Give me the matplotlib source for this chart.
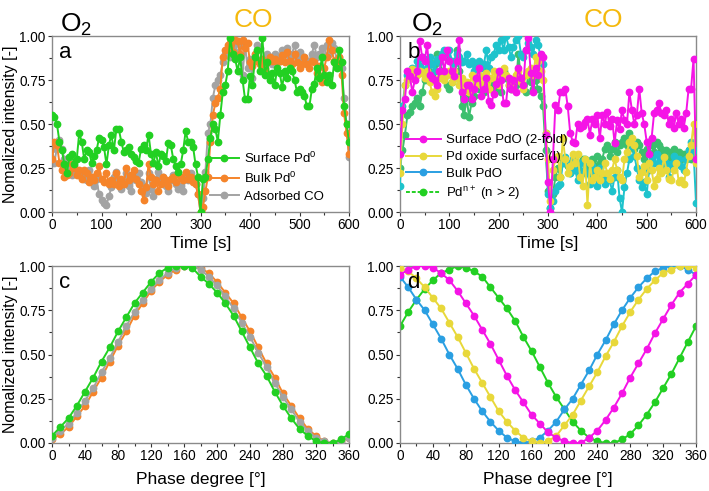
import matplotlib
matplotlib.use("Agg")
import matplotlib.pyplot as plt
from matplotlib.lines import Line2D
from matplotlib.ticker import MultipleLocator, FormatStrFormatter

plt.rcParams['font.family'] = ['Liberation Sans', 'DejaVu Sans']
plt.rcParams['mathtext.default'] = 'regular'

# ---------------- data ----------------
time_s = list(range(0, 601, 5))

a_surface_pd0 = [
    0.55, 0.54, 0.50, 0.40, 0.35, 0.27, 0.22, 0.31, 0.33, 0.27,
    0.30, 0.45, 0.40, 0.30, 0.35, 0.34, 0.28, 0.32, 0.35, 0.42,
    0.41, 0.37, 0.27, 0.38, 0.44, 0.35, 0.47, 0.47, 0.40, 0.34,
    0.35, 0.37, 0.33, 0.31, 0.29, 0.28, 0.36, 0.38, 0.35, 0.44,
    0.33, 0.28, 0.34, 0.26, 0.33, 0.32, 0.29, 0.39, 0.38, 0.30,
    0.26, 0.23, 0.27, 0.35, 0.46, 0.40, 0.40, 0.37, 0.27, 0.20,
    0.00, 0.19, 0.20, 0.30, 0.42, 0.50, 0.47, 0.40, 0.55, 0.68,
    0.72, 0.80, 0.99, 0.90, 0.87, 0.80, 0.88, 0.75, 0.64, 0.64,
    0.77, 0.72, 0.88, 0.92, 0.80, 0.99, 0.78, 0.85, 0.75, 0.79,
    0.72, 0.82, 0.79, 0.71, 0.80, 0.76, 0.82, 0.80, 0.75, 0.68,
    0.70, 0.68, 0.66, 0.60, 0.60, 0.70, 0.73, 0.82, 0.76, 0.88,
    0.78, 0.74, 0.78, 0.72, 0.85, 0.82, 0.92, 0.85, 0.60, 0.50,
    0.40]

a_bulk_pd0 = [
    0.30, 0.40, 0.38, 0.28, 0.24, 0.20, 0.21, 0.22, 0.27, 0.25,
    0.21, 0.24, 0.19, 0.24, 0.22, 0.17, 0.20, 0.18, 0.22, 0.26,
    0.19, 0.17, 0.22, 0.16, 0.18, 0.16, 0.22, 0.15, 0.19, 0.16,
    0.25, 0.18, 0.21, 0.24, 0.19, 0.16, 0.12, 0.07, 0.14, 0.27,
    0.20, 0.16, 0.18, 0.12, 0.16, 0.20, 0.18, 0.15, 0.19, 0.20,
    0.17, 0.22, 0.20, 0.18, 0.23, 0.19, 0.20, 0.17, 0.16, 0.10,
    0.00, 0.03, 0.12, 0.20, 0.40, 0.55, 0.62, 0.65, 0.70, 0.88,
    0.92, 0.95, 0.96, 0.91, 0.98, 0.97, 0.90, 0.98, 0.93, 0.96,
    0.85, 0.83, 0.90, 0.86, 0.84, 0.87, 0.82, 0.85, 0.88, 0.86,
    0.87, 0.85, 0.86, 0.89, 0.85, 0.91, 0.86, 0.84, 0.90, 0.85,
    0.82, 0.84, 0.88, 0.84, 0.82, 0.86, 0.85, 0.79, 0.83, 0.74,
    0.82, 0.88, 0.98, 0.92, 0.86, 0.83, 0.88, 0.78, 0.56, 0.45,
    0.33]

a_adsorbed_co = [
    0.36, 0.28, 0.37, 0.41, 0.36, 0.30, 0.27, 0.24, 0.21, 0.26,
    0.22, 0.21, 0.20, 0.19, 0.18, 0.24, 0.20, 0.15, 0.19, 0.10,
    0.07, 0.05, 0.04, 0.09, 0.14, 0.20, 0.23, 0.19, 0.13, 0.17,
    0.22, 0.15, 0.12, 0.20, 0.18, 0.22, 0.17, 0.15, 0.11, 0.22,
    0.13, 0.09, 0.19, 0.23, 0.17, 0.20, 0.15, 0.12, 0.18, 0.21,
    0.16, 0.13, 0.15, 0.12, 0.20, 0.18, 0.22, 0.19, 0.16, 0.10,
    0.00, 0.08, 0.23, 0.45, 0.50, 0.65, 0.72, 0.75, 0.78, 0.85,
    0.90, 0.92, 0.88, 0.92, 0.96, 0.90, 0.95, 0.78, 0.95, 0.82,
    0.87, 0.76, 0.88, 0.95, 0.93, 0.86, 0.80, 0.90, 0.88, 0.84,
    0.90, 0.88, 0.86, 0.92, 0.90, 0.93, 0.88, 0.90, 0.95, 0.88,
    0.91, 0.86, 0.88, 0.84, 0.86, 0.90, 0.95, 0.88, 0.90, 0.93,
    0.88, 0.95, 0.90, 0.96, 0.93, 0.87, 0.88, 0.82, 0.65, 0.50,
    0.31]

b_surface_pdo = [
    0.33, 0.58, 0.64, 0.80, 0.77, 0.68, 0.75, 0.80, 0.97, 0.88,
    0.86, 0.95, 0.78, 0.76, 0.75, 0.72, 0.80, 0.88, 0.80, 0.92,
    0.86, 0.80, 0.77, 0.86, 0.98, 0.68, 0.64, 0.72, 0.72, 0.64,
    0.70, 0.76, 0.82, 0.66, 0.70, 0.76, 0.63, 0.61, 0.67, 0.73,
    0.80, 0.75, 0.62, 0.62, 0.76, 0.70, 0.75, 0.68, 0.82, 0.76,
    0.72, 0.92, 0.99, 0.79, 0.68, 0.82, 0.78, 0.90, 0.88, 0.44,
    0.17, 0.00, 0.30, 0.61, 0.58, 0.68, 0.68, 0.70, 0.60, 0.45,
    0.40, 0.39, 0.50, 0.48, 0.49, 0.51, 0.53, 0.44, 0.53, 0.50,
    0.55, 0.42, 0.55, 0.50, 0.57, 0.49, 0.53, 0.39, 0.52, 0.47,
    0.58, 0.52, 0.50, 0.68, 0.58, 0.50, 0.55, 0.70, 0.56, 0.50,
    0.40, 0.33, 0.42, 0.56, 0.58, 0.62, 0.56, 0.55, 0.58, 0.50,
    0.53, 0.48, 0.56, 0.50, 0.53, 0.48, 0.56, 0.70, 0.70, 0.87,
    0.30]

b_pd_oxide_surface = [
    0.22, 0.50, 0.72, 0.75, 0.76, 0.81, 0.79, 0.78, 0.80, 0.79,
    0.76, 0.80, 0.74, 0.68, 0.66, 0.70, 0.76, 0.78, 0.75, 0.78,
    0.80, 0.74, 0.80, 0.76, 0.72, 0.76, 0.71, 0.74, 0.68, 0.78,
    0.76, 0.73, 0.78, 0.72, 0.76, 0.79, 0.70, 0.76, 0.80, 0.76,
    0.72, 0.76, 0.82, 0.78, 0.72, 0.74, 0.70, 0.78, 0.80, 0.74,
    0.70, 0.78, 0.80, 0.82, 0.78, 0.88, 0.86, 0.80, 0.75, 0.45,
    0.30, 0.06, 0.24, 0.30, 0.32, 0.20, 0.42, 0.30, 0.22, 0.26,
    0.33, 0.28, 0.33, 0.20, 0.15, 0.30, 0.04, 0.28, 0.18, 0.20,
    0.24, 0.18, 0.22, 0.28, 0.22, 0.19, 0.24, 0.30, 0.24, 0.20,
    0.18, 0.30, 0.34, 0.40, 0.42, 0.38, 0.32, 0.20, 0.23, 0.26,
    0.18, 0.28, 0.24, 0.15, 0.19, 0.25, 0.22, 0.31, 0.24, 0.19,
    0.18, 0.24, 0.28, 0.17, 0.18, 0.16, 0.23, 0.32, 0.38, 0.50,
    0.28]

b_bulk_pdo = [
    0.15, 0.60, 0.72, 0.78, 0.80, 0.82, 0.80, 0.86, 0.83, 0.88,
    0.87, 0.82, 0.88, 0.84, 0.80, 0.87, 0.85, 0.90, 0.92, 0.88,
    0.92, 0.86, 0.84, 0.90, 0.88, 0.85, 0.86, 0.90, 0.84, 0.86,
    0.80, 0.84, 0.86, 0.82, 0.84, 0.92, 0.82, 0.88, 0.90, 0.95,
    0.92, 0.98, 0.92, 1.00, 0.94, 0.88, 0.94, 0.98, 1.00, 0.90,
    0.88, 0.92, 0.96, 0.94, 0.90, 0.98, 0.95, 0.88, 0.84, 0.45,
    0.10, 0.02, 0.06, 0.12, 0.15, 0.16, 0.28, 0.31, 0.28, 0.22,
    0.30, 0.24, 0.18, 0.28, 0.22, 0.30, 0.22, 0.16, 0.26, 0.22,
    0.15, 0.25, 0.20, 0.16, 0.21, 0.18, 0.12, 0.20, 0.24, 0.08,
    0.00, 0.14, 0.22, 0.30, 0.40, 0.32, 0.25, 0.18, 0.14, 0.17,
    0.10, 0.24, 0.30, 0.28, 0.33, 0.26, 0.30, 0.25, 0.28, 0.20,
    0.27, 0.32, 0.29, 0.30, 0.26, 0.24, 0.30, 0.35, 0.40, 0.35,
    0.05]

b_pd_nplus = [
    0.25, 0.35, 0.44, 0.55, 0.57, 0.60, 0.62, 0.65, 0.60, 0.68,
    0.75, 0.80, 0.85, 0.78, 0.84, 0.90, 0.86, 0.80, 0.76, 0.72,
    0.70, 0.74, 0.85, 0.92, 0.80, 0.60, 0.55, 0.65, 0.54, 0.62,
    0.66, 0.74, 0.70, 0.72, 0.68, 0.80, 0.72, 0.70, 0.74, 0.70,
    0.78, 0.68, 0.80, 0.76, 0.72, 0.70, 0.75, 0.72, 0.90, 0.76,
    0.72, 0.68, 0.78, 0.74, 0.70, 0.75, 0.70, 0.66, 0.60, 0.35,
    0.12, 0.02, 0.10, 0.20, 0.25, 0.20, 0.30, 0.28, 0.26, 0.22,
    0.27, 0.30, 0.25, 0.22, 0.30, 0.28, 0.26, 0.24, 0.30, 0.26,
    0.32, 0.28, 0.30, 0.36, 0.38, 0.32, 0.36, 0.40, 0.34, 0.38,
    0.40, 0.42, 0.38, 0.45, 0.41, 0.36, 0.40, 0.38, 0.34, 0.30,
    0.36, 0.40, 0.38, 0.34, 0.40, 0.38, 0.36, 0.33, 0.35, 0.30,
    0.34, 0.36, 0.32, 0.34, 0.30, 0.33, 0.30, 0.35, 0.30, 0.32,
    0.30]

phase_deg = list(range(0, 361, 10))

c_surface_pd0 = [0.04, 0.09, 0.14, 0.21, 0.29, 0.37, 0.46, 0.54, 0.63, 0.71,
                 0.79, 0.85, 0.91, 0.96, 0.99, 1.00, 1.00, 0.99, 0.94, 0.90,
                 0.85, 0.79, 0.72, 0.63, 0.54, 0.45, 0.38, 0.29, 0.21, 0.14,
                 0.08, 0.04, 0.01, 0.00, 0.00, 0.02, 0.05]
c_bulk_pd0 = [0.02, 0.05, 0.09, 0.15, 0.21, 0.29, 0.37, 0.46, 0.55, 0.63,
              0.72, 0.79, 0.86, 0.91, 0.95, 0.98, 1.00, 1.00, 0.99, 0.96,
              0.91, 0.85, 0.79, 0.71, 0.63, 0.54, 0.45, 0.37, 0.28, 0.21,
              0.14, 0.08, 0.04, 0.01, 0.00, 0.01, 0.03]
c_adsorbed_co = [0.03, 0.07, 0.11, 0.17, 0.24, 0.31, 0.40, 0.48, 0.57, 0.66,
                 0.74, 0.81, 0.87, 0.92, 0.96, 0.99, 1.00, 1.00, 0.98, 0.94,
                 0.89, 0.83, 0.76, 0.68, 0.60, 0.51, 0.43, 0.34, 0.26, 0.19,
                 0.12, 0.07, 0.03, 0.01, 0.00, 0.01, 0.03]

d_surface_pdo = [0.95, 0.98, 1.00, 1.00, 0.99, 0.96, 0.92, 0.86, 0.79, 0.72,
                 0.64, 0.56, 0.47, 0.38, 0.30, 0.23, 0.16, 0.11, 0.06, 0.03,
                 0.01, 0.00, 0.00, 0.03, 0.07, 0.13, 0.20, 0.28, 0.37, 0.45,
                 0.53, 0.62, 0.70, 0.78, 0.85, 0.90, 0.95]
d_pd_oxide_surface = [0.99, 0.97, 0.93, 0.88, 0.82, 0.76, 0.68, 0.60, 0.51, 0.42,
                      0.34, 0.26, 0.18, 0.12, 0.07, 0.03, 0.01, 0.00, 0.01, 0.04,
                      0.10, 0.16, 0.24, 0.32, 0.40, 0.49, 0.57, 0.66, 0.74, 0.81,
                      0.87, 0.92, 0.96, 0.98, 1.00, 1.00, 0.99]
d_bulk_pdo = [0.94, 0.88, 0.81, 0.75, 0.67, 0.59, 0.50, 0.42, 0.33, 0.25,
              0.18, 0.12, 0.07, 0.03, 0.01, 0.00, 0.01, 0.03, 0.07, 0.12,
              0.19, 0.25, 0.33, 0.41, 0.50, 0.58, 0.67, 0.75, 0.82, 0.88,
              0.93, 0.97, 0.99, 1.00, 1.00, 0.98, 0.95]
d_pd_nplus = [0.66, 0.74, 0.81, 0.87, 0.92, 0.96, 0.98, 1.00, 0.99, 0.97,
              0.94, 0.88, 0.82, 0.76, 0.69, 0.60, 0.52, 0.43, 0.34, 0.26,
              0.19, 0.12, 0.07, 0.03, 0.01, 0.00, 0.00, 0.02, 0.05, 0.10,
              0.16, 0.23, 0.31, 0.39, 0.48, 0.57, 0.66]

labels_a = ['Surface Pd$^0$', 'Bulk Pd$^0$', 'Adsorbed CO']
labels_b = ['Surface PdO (2-fold)', 'Pd oxide surface (I)', 'Bulk PdO', 'Pd$^{n+}$ (n > 2)']

# ---------------- styles ----------------
GREEN = '#22d022'
ORANGE = '#f5842a'
GRAY = '#a3a3a3'
MAGENTA = '#f514e6'
YELLOW = '#e8d83a'
CYAN = '#1ec3cc'
TEAL_GREEN = '#3cbf6e'
BLUE = '#2a9fe2'
CO_COLOR = '#f5b90d'

W, H = 709, 491
fig = plt.figure(figsize=(W / 100, H / 100), dpi=100)

def axes_px(l, r, t, b):
    return fig.add_axes([l / W, 1 - b / H, (r - l) / W, (b - t) / H])

ax_a = axes_px(52, 349, 36, 212)
ax_b = axes_px(400, 696, 36, 212)
ax_c = axes_px(52, 349, 266, 443)
ax_d = axes_px(400, 696, 266, 443)

lw = 1.4
ms = 4.6

def style(ax, xmax, xmajor, xminor):
    ax.set_xlim(0, xmax)
    ax.set_ylim(0, 1)
    ax.xaxis.set_major_locator(MultipleLocator(xmajor))
    ax.xaxis.set_minor_locator(MultipleLocator(xminor))
    ax.yaxis.set_major_locator(MultipleLocator(0.25))
    ax.yaxis.set_minor_locator(MultipleLocator(0.125))
    ax.yaxis.set_major_formatter(FormatStrFormatter('%.2f'))
    ax.tick_params(which='major', direction='out', length=3, width=0.8,
                   labelsize=9.8, colors='#333333', labelcolor='black', pad=1.5)
    ax.tick_params(which='minor', direction='out', length=2, width=0.8, colors='#333333')
    for s in ax.spines.values():
        s.set_color('#8a8a8a')
        s.set_linewidth(1.0)

def ylab(ax):
    ax.set_ylabel('Nomalized intensity [-]', fontsize=11.5)
    ax.yaxis.set_label_coords(-0.116, 0.5)

# panel a
ax_a.plot(time_s, a_adsorbed_co, '-o', color=GRAY, lw=lw, ms=ms, zorder=2)
ax_a.plot(time_s, a_bulk_pd0, '-o', color=ORANGE, lw=lw, ms=ms, zorder=3)
ax_a.plot(time_s, a_surface_pd0, '-o', color=GREEN, lw=lw, ms=ms, zorder=4)
style(ax_a, 600, 100, 50)
ax_a.set_xlabel('Time [s]', fontsize=12.5, labelpad=3)
ylab(ax_a)
h_a = [Line2D([], [], color=c, marker='o', lw=lw, ms=ms) for c in [GREEN, ORANGE, GRAY]]
ax_a.legend(h_a, labels_a, loc='lower left', bbox_to_anchor=(0.50, 0.0), frameon=False,
            fontsize=9.5, handlelength=2.2, handletextpad=0.4, labelspacing=0.35,
            borderaxespad=0.3)

# panel b
ax_b.plot(time_s, b_pd_nplus, '-o', color=TEAL_GREEN, lw=lw, ms=ms, zorder=2)
ax_b.plot(time_s, b_bulk_pdo, '-o', color=CYAN, lw=lw, ms=ms, zorder=3)
ax_b.plot(time_s, b_pd_oxide_surface, '-o', color=YELLOW, lw=lw, ms=ms, zorder=4)
ax_b.plot(time_s, b_surface_pdo, '-o', color=MAGENTA, lw=lw, ms=ms, zorder=5)
style(ax_b, 600, 100, 50)
ax_b.set_xlabel('Time [s]', fontsize=12.5, labelpad=3)
h_b = [Line2D([], [], color=MAGENTA, marker='o', lw=lw, ms=ms),
       Line2D([], [], color=YELLOW, marker='o', lw=lw, ms=ms),
       Line2D([], [], color=BLUE, marker='o', lw=lw, ms=ms),
       Line2D([], [], color=GREEN, marker='o', lw=lw, ms=ms, ls=(0, (2, 1)))]
ax_b.legend(h_b, labels_b, loc='lower left', bbox_to_anchor=(-0.01, 0.0), frameon=False,
            fontsize=9.5, handlelength=2.6, handletextpad=0.4, labelspacing=0.35,
            borderaxespad=0.3)

# panel c
ax_c.plot(phase_deg, c_bulk_pd0, '-o', color=ORANGE, lw=lw, ms=ms, zorder=2)
ax_c.plot(phase_deg, c_adsorbed_co, '-o', color=GRAY, lw=lw, ms=ms, zorder=3)
ax_c.plot(phase_deg, c_surface_pd0, '-o', color=GREEN, lw=lw, ms=ms, zorder=4)
style(ax_c, 360, 40, 20)
ax_c.set_xlabel('Phase degree [°]', fontsize=12.5, labelpad=6)
ylab(ax_c)

# panel d
ax_d.plot(phase_deg, d_pd_nplus, '-o', color=GREEN, lw=lw, ms=ms, zorder=2)
ax_d.plot(phase_deg, d_bulk_pdo, '-o', color=BLUE, lw=lw, ms=ms, zorder=3)
ax_d.plot(phase_deg, d_pd_oxide_surface, '-o', color=YELLOW, lw=lw, ms=ms, zorder=4)
ax_d.plot(phase_deg, d_surface_pdo, '-o', color=MAGENTA, lw=lw, ms=ms, zorder=5)
style(ax_d, 360, 40, 20)
ax_d.set_xlabel('Phase degree [°]', fontsize=12.5, labelpad=6)

# panel letters
for ax, letter in zip([ax_a, ax_b, ax_c, ax_d], 'abcd'):
    ax.text(0.025, 0.965, letter, transform=ax.transAxes, fontsize=16,
            ha='left', va='top', zorder=10)

# gas labels
fig.text(60 / W, 1 - 32 / H, 'O$_2$', fontsize=19, ha='left', va='baseline')
fig.text(253 / W, 1 - 27 / H, 'CO', fontsize=19, ha='center', va='baseline', color=CO_COLOR)
fig.text(411 / W, 1 - 32 / H, 'O$_2$', fontsize=19, ha='left', va='baseline')
fig.text(603 / W, 1 - 27 / H, 'CO', fontsize=19, ha='center', va='baseline', color=CO_COLOR)

fig.savefig('out.png', dpi=100)
